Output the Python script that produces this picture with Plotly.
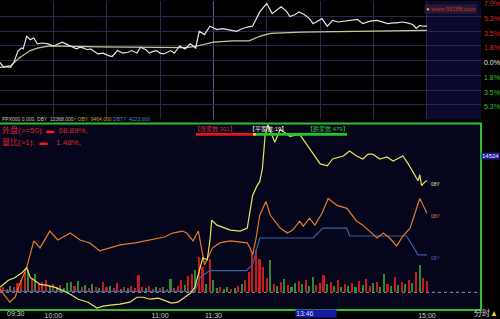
import plotly.graph_objects as go

# ---------------- data ----------------
# top panel: minutes since 09:30 (lunch break removed), % change
price_min = [0, 2, 4, 6, 8, 10, 12, 13, 15, 17,
             19, 21, 24, 27, 30, 33, 35, 37, 39, 41,
             43, 45, 47, 49, 51, 53, 55, 58, 61, 63,
             66, 69, 72, 74, 77, 79, 82, 84, 86, 88,
             90, 92, 94, 96, 98, 101, 104, 107, 110, 112,
             115, 118, 122, 125, 128, 131, 133, 136, 139, 142,
             144, 146, 148, 150, 153, 156, 158, 161, 163, 166,
             168, 171, 174, 176, 179, 181, 184, 187, 190, 193,
             195, 198, 201, 204, 208, 212, 215, 218, 221, 223,
             226, 229, 232, 234, 236, 238, 240]
price_pct = [-0.2, -0.8, -0.7, -0.8, -0.1, 1.1, 1.5, 1.4, 2.9, 2.5,
             2.7, 2.0, 2.1, 2.0, 1.75, 2.0, 2.2, 2.0, 1.75, 1.6,
             1.4, 1.6, 1.5, 1.3, 1.4, 1.1, 0.8, 0.9, 0.6, 0.5,
             1.2, 0.9, 1.0, 1.2, 0.9, 1.6, 1.3, 0.9, 1.1, 1.2,
             0.9, 0.8, 1.0, 1.2, 0.9, 1.75, 1.4, 2.0, 1.5, 3.5,
             3.1, 4.1, 3.7, 3.8, 3.7, 3.6, 3.5, 3.8, 4.0, 4.1,
             4.9, 5.8, 6.3, 6.8, 5.6, 6.1, 6.4, 5.9, 5.25, 5.5,
             5.8, 5.5, 5.0, 4.4, 4.8, 5.0, 4.1, 4.8, 4.6, 4.7,
             4.7, 4.8, 4.9, 4.4, 4.7, 4.8, 4.6, 4.4, 4.5, 4.5,
             4.6, 4.5, 4.3, 3.85, 4.2, 4.1, 4.1]

avg_min = [0, 6, 11, 17, 21, 28, 56, 94, 105, 111, 116, 120, 131, 140, 146, 152, 169, 197, 240]
avg_pct = [-0.8, -0.6, 0.35, 1.2, 1.5, 1.75, 1.65, 1.55, 1.55, 1.75, 2.0, 2.2, 2.35, 2.35, 2.9, 3.25, 3.4, 3.5, 3.6]

# bottom panel indicator lines
yel_min = [0, 4.5, 8.5, 12.5, 15, 17, 19.5, 22.5, 26.5, 31,
           35, 39.5, 44, 49.5, 54.5, 58, 62, 67.5, 73, 77,
           80.5, 84.5, 89, 92.5, 96.5, 100, 104, 107, 109.5, 112.5,
           114, 116.5, 118, 119, 122, 129.5, 135, 139, 140.5, 142,
           144.5, 146, 147.5, 149, 150.5, 154.5, 157.5, 163, 168.5, 172.5,
           176, 180, 184, 187, 193, 196.5, 200.5, 204, 207, 209.5,
           213.5, 217.5, 221, 223, 226.5, 229.5, 232, 234, 235, 236,
           237, 239, 240]
yel_val = [5, 12, 15, 20, 25, 15, 12, 8, 7, 5,
           2, -2, -7, -10, -16, -14, -13, -12, -10, -5,
           -5, -7, -6, -8, -11, -10, -5, -1, 5, 25,
           35, 33, 52, 73, 68, 63, 62, 65, 82, 98,
           108, 112, 125, 158, 170, 152, 165, 158, 160, 150,
           140, 130, 128, 135, 138, 143, 138, 135, 140, 140,
           135, 137, 133, 135, 138, 130, 122, 117, 113, 119,
           108, 112, 113]

org_min = [0, 5.5, 8.5, 11, 15, 17, 19, 22.5, 28, 32.5,
           39.5, 45, 50.5, 56, 62, 67.5, 76, 84.5, 92.5, 97,
           102.5, 105, 108.5, 111.5, 115, 119.5, 123.5, 129.5, 139, 140.5,
           142, 144, 146, 149.5, 152, 157.5, 161.5, 164.5, 168.5, 170.5,
           174, 177, 181, 184.5, 189.5, 195, 200.5, 204, 212, 215.5,
           219, 223, 226.5, 230.5, 236, 240]
org_val = [3, -10, -5, 8, 25, 40, 52, 45, 62, 53,
           60, 53, 50, 42, 45, 48, 50, 53, 56, 60,
           62, 60, 52, 62, 28, 45, 50, 52, 50, 45,
           38, 55, 78, 92, 78, 65, 60, 63, 72, 67,
           75, 68, 80, 95, 88, 85, 72, 68, 55, 60,
           55, 47, 57, 65, 95, 80]

blu_min = [0, 8, 109.5, 112.5, 114, 118, 138.5, 142, 146, 176, 181.5, 195, 196.5, 228.5, 232, 235, 240]
blu_val = [2, 1, 1, 15, 17, 22, 22, 28, 55, 55, 65, 65, 57, 57, 47, 38, 38]

# volume, every 2 minutes from 09:30
vol_min = list(range(0, 241, 2))
vol_val = [4, 5, 3, 6, 5, 9, 12, 20, 22, 14,
           18, 8, 10, 12, 6, 8, 5, 7, 4, 9,
           10, 6, 11, 5, 7, 4, 8, 5, 4, 10,
           5, 6, 4, 9, 3, 5, 4, 6, 4, 17,
           5, 4, 6, 3, 5, 4, 5, 3, 13, 4,
           6, 12, 7, 16, 18, 22, 35, 25, 8, 33,
           12, 4, 5, 3, 5, 3, 4, 6, 8, 12,
           20, 38, 42, 33, 25, 14, 32, 8, 6, 10,
           13, 7, 5, 9, 11, 8, 12, 6, 15, 7,
           9, 17, 8, 10, 6, 12, 5, 8, 6, 9,
           5, 11, 7, 13, 6, 9, 10, 5, 18, 8,
           6, 15, 7, 10, 8, 12, 9, 20, 27, 14,
           11]
vol_dir = list("rrrgrrrrgr" "grrrgrgrgg" "grgrgrgrgr" "rgrrgrgrrr"
               "rgrrgrgrgr" "rrgrrgrrgr" "ggrggrgrgr" "rrrrrrgrgr"
               "grggrgrggr" "rrgrgrgrgr" "grgrrgrggr" "grgrgrgrgr" "r")

breadth_labels = ["涨家数", "平家数", "跌家数"]
breadth_counts = [301, 19, 479]

pct_ticks = [7.0, 5.25, 3.5, 1.75, 0.0, -1.75, -3.5, -5.25]
pct_text = ["7.0%", "5.3%", "3.5%", "1.8%", "0.0%", "1.8%", "3.5%", "5.3%"]
time_ticks = [30, 90, 120, 240]
time_text = ["10:00", "11:00", "11:30", "15:00"]
cursor_min = 166
cursor_text = "13:46"

# ---------------- styles ----------------
W, H = 500, 319
def py(px):
    return 1 - px / H

RED = "#d82828"
GRN = "#2fc02f"
FONT = "Liberation Sans, Noto Sans CJK SC"
XR = [0, 270.4]
XDOM = [0, 0.962]

fig = go.Figure()

# top panel
fig.add_trace(go.Scatter(x=avg_min, y=avg_pct, mode="lines",
                         line=dict(color="#cfc79a", width=1.2), xaxis="x", yaxis="y"))
fig.add_trace(go.Scatter(x=price_min, y=price_pct, mode="lines",
                         line=dict(color="#e4e4e4", width=1.2), xaxis="x", yaxis="y"))

# bottom panel
fig.add_trace(go.Bar(x=vol_min, y=vol_val, width=0.9,
                     marker=dict(color=["#c81c1c" if d == "r" else "#2e8a2e" for d in vol_dir],
                                 line=dict(width=0)),
                     xaxis="x2", yaxis="y2"))
fig.add_trace(go.Scatter(x=blu_min, y=blu_val, mode="lines",
                         line=dict(color="#3f5f9f", width=1.2), xaxis="x2", yaxis="y2"))
fig.add_trace(go.Scatter(x=org_min, y=org_val, mode="lines",
                         line=dict(color="#e47a2a", width=1.2), xaxis="x2", yaxis="y2"))
fig.add_trace(go.Scatter(x=yel_min, y=yel_val, mode="lines",
                         line=dict(color="#e6e65a", width=1.2), xaxis="x2", yaxis="y2"))

# breadth bar
for cnt, col in zip(breadth_counts, ["#e01818", "#e8d020", "#22c822"]):
    fig.add_trace(go.Bar(x=[cnt], y=[0], orientation="h", width=1,
                         marker=dict(color=col, line=dict(width=0)),
                         xaxis="x3", yaxis="y3"))

shapes = [
    # bottom panel background
    dict(type="rect", xref="paper", yref="paper", x0=0, x1=0.962, y0=py(313), y1=py(124),
         fillcolor="#05051c", line=dict(width=0), layer="below"),
    # right column of top panel
    dict(type="rect", xref="x", yref="y domain", x0=240, x1=XR[1], y0=0, y1=1,
         fillcolor="#0b0a2c", line=dict(width=0), layer="below"),
    # midday separator
    dict(type="line", xref="x", yref="y domain", x0=120, x1=120, y0=0, y1=1,
         line=dict(color="#5e5c9c", width=1), layer="below"),
    # volume baseline
    dict(type="line", xref="paper", yref="y2", x0=0, x1=0.962, y0=0, y1=0,
         line=dict(color="#9a9a9a", width=1, dash="dot"), layer="below"),
    # green frame
    dict(type="path", xref="paper", yref="paper",
         path=f"M 0,{py(124)} L 0.962,{py(124)} L 0.962,{py(313)} L 0,{py(313)}",
         line=dict(color="#2cc02c", width=2)),
]

ann = []
ann.append(dict(xref="paper", yref="paper", x=0.0, y=py(120), xanchor="left", yanchor="middle",
                showarrow=False, font=dict(size=5, color="#c8c8c8", family=FONT),
                text="PPX000 0.000, DBY  12368.000↑ <span style='color:#c8a040'>OBY  9464.000</span>"
                     " <span style='color:#4a8ad0'>DBTY  4223.000</span>"))
ann.append(dict(xref="paper", yref="paper", x=0.0, y=py(131), xanchor="left", yanchor="middle",
                showarrow=False, font=dict(size=8, color=RED, family=FONT),
                text="外盘(>=50): <span style='color:#ff1818'>▬</span>  68.89%,"))
ann.append(dict(xref="paper", yref="paper", x=0.0, y=py(143), xanchor="left", yanchor="middle",
                showarrow=False, font=dict(size=8, color=RED, family=FONT),
                text="量比(>1):  <span style='color:#ff1818'>▬</span>    1.48%,"))
for lab, cnt, cx, col in zip(breadth_labels, breadth_counts, [215, 268, 328], [RED, "#e8e8e8", GRN]):
    ann.append(dict(xref="paper", yref="paper", x=cx / W, y=py(129.5), xanchor="center", yanchor="middle",
                    showarrow=False, font=dict(size=6, color=col, family=FONT),
                    text=f"【{lab}:{cnt}】"))
ann.append(dict(xref="paper", yref="y2", x=1.0, y=138, xanchor="right", yanchor="middle",
                showarrow=False, bgcolor="#1c1c90", borderpad=0,
                font=dict(size=6, color="#e6e6ff", family=FONT), text="14524"))
for series, col in [(yel_val, "#e0e0a0"), (org_val, "#e47a2a"), (blu_val, "#4a6aaa")]:
    ann.append(dict(xref="x2", yref="y2", x=241, y=series[-1] - 3, xanchor="left", yanchor="middle",
                    showarrow=False, font=dict(size=5, color=col, family=FONT), text="08Y"))
ann.append(dict(xref="paper", yref="paper", x=5 / W, y=py(316.5), xanchor="left", yanchor="middle",
                showarrow=False, font=dict(size=7, color="#d0d0d0", family=FONT), text="09:30"))
ann.append(dict(xref="x2", yref="paper", x=cursor_min, y=py(316.5), xanchor="left", yanchor="middle",
                showarrow=False, bgcolor="#1818a8", width=40, align="left", borderpad=0,
                font=dict(size=7, color="#d8d8ff", family=FONT), text=cursor_text))
ann.append(dict(xref="paper", yref="paper", x=1.0, y=py(315.5), xanchor="right", yanchor="middle",
                showarrow=False, font=dict(size=8, color="#d8d8d8", family=FONT),
                text="分时<span style='color:#f0d020'>▲</span>"))
ann.append(dict(xref="paper", yref="paper", x=450 / W, y=py(8.5), xanchor="center", yanchor="middle",
                showarrow=False, bgcolor="#2a1a34", borderpad=1,
                font=dict(size=6, color="#d02a2a", family=FONT),
                text="<span style='color:#d8a030'>●</span> www.55188.com"))

fig.update_layout(
    width=W, height=H, margin=dict(l=0, r=0, t=0, b=0),
    paper_bgcolor="#000000", plot_bgcolor="rgba(0,0,0,0)",
    showlegend=False, barmode="stack", bargap=0,
    xaxis=dict(domain=XDOM, range=XR, anchor="y", tickvals=[30, 60, 90, 150, 180, 210, 240],
               showticklabels=False, ticks="", showgrid=True, gridcolor="#2a2652", gridwidth=1,
               zeroline=False, showline=False, fixedrange=True),
    yaxis=dict(domain=[py(120), 1], range=[-7, 7.1], anchor="x", side="right",
               tickvals=pct_ticks,
               ticktext=[f"<span style='color:{'#e8e8e8' if v == 0 else (RED if v > 0 else GRN)}'>{t}</span>"
                         for v, t in zip(pct_ticks, pct_text)],
               tickfont=dict(size=7, family=FONT), ticks="", ticklabelstandoff=2, ticklabelshift=2,
               ticklabeloverflow="allow",
               showgrid=True, gridcolor="#2a2652", gridwidth=1, zeroline=False, showline=False),
    xaxis2=dict(domain=XDOM, range=XR, anchor="y2", tickvals=time_ticks, ticktext=time_text,
                tickfont=dict(size=7, color="#d0d0d0", family=FONT), ticks="",
                showgrid=False, zeroline=False, showline=False),
    yaxis2=dict(domain=[py(313), py(124)], range=[-18, 171], anchor="x2",
                showticklabels=False, ticks="", showgrid=False, zeroline=False, showline=False),
    xaxis3=dict(domain=[196 / W, 347 / W], range=[0, sum(breadth_counts)], anchor="y3", visible=False),
    yaxis3=dict(domain=[py(136.5), py(133.5)], range=[-0.5, 0.5], anchor="x3", visible=False),
    shapes=shapes, annotations=ann,
)

fig.write_html("out.html")
